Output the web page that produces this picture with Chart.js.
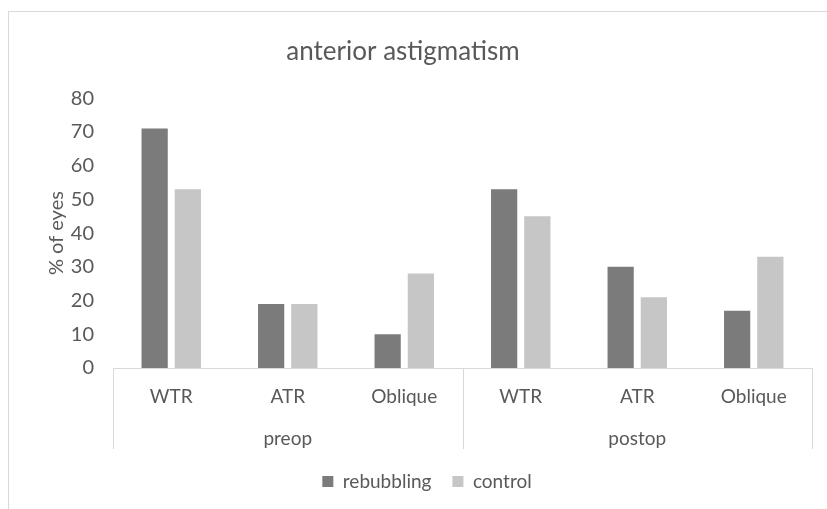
<!DOCTYPE html>
<html>
<head>
<meta charset="utf-8">
<script src="https://cdn.jsdelivr.net/npm/chart.js@4"></script>
<style>
  html, body { margin: 0; padding: 0; background: #fff; }
  .wrap { position: relative; width: 827px; height: 509px; overflow: hidden; }
  .frame { position: absolute; left: 8px; top: 11px; width: 900px; height: 600px;
           border-left: 1px solid #d9d9d9; border-top: 1px solid #d9d9d9; }
  canvas { position: absolute; left: 0; top: 0; }
</style>
</head>
<body>
<div class="wrap">
  <div class="frame"></div>
  <canvas id="chart" width="827" height="512"></canvas>
</div>
<script>
// ---- data ----
const categories = ["WTR", "ATR", "Oblique", "WTR", "ATR", "Oblique"];
const groups = ["preop", "postop"];
const rebubbling = [71, 19, 10, 53, 30, 17];
const control = [53, 19, 28, 45, 21, 33];
const yTicks = [0, 10, 20, 30, 40, 50, 60, 70, 80];

const textColor = "#595959";
const lineColor = "#d9d9d9";
const fontFamily = "Lato, 'Open Sans', sans-serif";

// vertical separators of the two-level category axis
const groupLines = {
  id: "groupLines",
  afterDraw(chart) {
    const x = chart.scales.x;
    const x2 = chart.scales.x2;
    const ctx = chart.ctx;
    const per = categories.length / groups.length;
    const step = (x.right - x.left) / categories.length;
    ctx.save();
    ctx.strokeStyle = lineColor;
    ctx.lineWidth = 1;
    for (let g = 0; g <= groups.length; g++) {
      const px = Math.round(x.left + g * per * step) + 0.5;
      ctx.beginPath();
      ctx.moveTo(px, chart.chartArea.bottom);
      ctx.lineTo(px, x2.bottom - 2);
      ctx.stroke();
    }
    ctx.restore();
  },
};

// nudge legend / title sideways like the original (legend sits a bit right of centre)
const nudgeBoxes = {
  id: "nudgeBoxes",
  afterLayout(chart) {
    if (chart.legend) { chart.legend.left += 21; chart.legend.right += 21; }
    if (chart.titleBlock) { chart.titleBlock.left -= 3; chart.titleBlock.right -= 3; }
  },
};

new Chart(document.getElementById("chart").getContext("2d"), {
  type: "bar",
  data: {
    labels: categories,
    datasets: [
      {
        label: "rebubbling",
        data: rebubbling,
        backgroundColor: "#7b7b7b",
        categoryPercentage: 0.57,
        barPercentage: 0.79,
      },
      {
        label: "control",
        data: control,
        backgroundColor: "#c5c6c5",
        categoryPercentage: 0.57,
        barPercentage: 0.79,
      },
    ],
  },
  options: {
    responsive: false,
    animation: false,
    layout: { padding: { left: 0, right: 15, top: 0, bottom: 11 } },
    plugins: {
      title: {
        display: true,
        text: "anterior astigmatism",
        color: textColor,
        font: { family: fontFamily, size: 26, weight: "normal" },
        padding: { top: 36, bottom: 31 },
      },
      legend: {
        display: true,
        position: "bottom",
        labels: {
          color: textColor,
          font: { family: fontFamily, size: 19 },
          boxWidth: 11,
          boxHeight: 11,
          padding: 21,
        },
      },
      tooltip: { enabled: false },
    },
    scales: {
      y: {
        min: 0,
        max: 80,
        afterBuildTicks: (s) => { s.ticks = yTicks.map((v) => ({ value: v })); },
        afterFit: (s) => { s.width = 113; },
        grid: { display: false },
        border: { display: false },
        ticks: {
          color: textColor,
          font: { family: fontFamily, size: 20 },
          padding: 11,
        },
        title: {
          display: true,
          text: "% of eyes",
          color: textColor,
          font: { family: fontFamily, size: 20 },
          padding: { top: 45, bottom: 4 },
        },
      },
      x: {
        position: "bottom",
        grid: { display: false },
        border: { display: true, color: lineColor, width: 1 },
        afterFit: (s) => { s.height = 48; },
        ticks: {
          color: textColor,
          font: { family: fontFamily, size: 19 },
          padding: 9,
          maxRotation: 0,
          autoSkip: false,
        },
      },
      x2: {
        type: "category",
        labels: groups,
        position: "bottom",
        offset: true,
        grid: { display: false },
        border: { display: false },
        afterFit: (s) => { s.height = 35; },
        ticks: {
          color: textColor,
          font: { family: fontFamily, size: 19 },
          padding: 3,
          maxRotation: 0,
        },
      },
    },
  },
  plugins: [groupLines, nudgeBoxes],
});
</script>
</body>
</html>
